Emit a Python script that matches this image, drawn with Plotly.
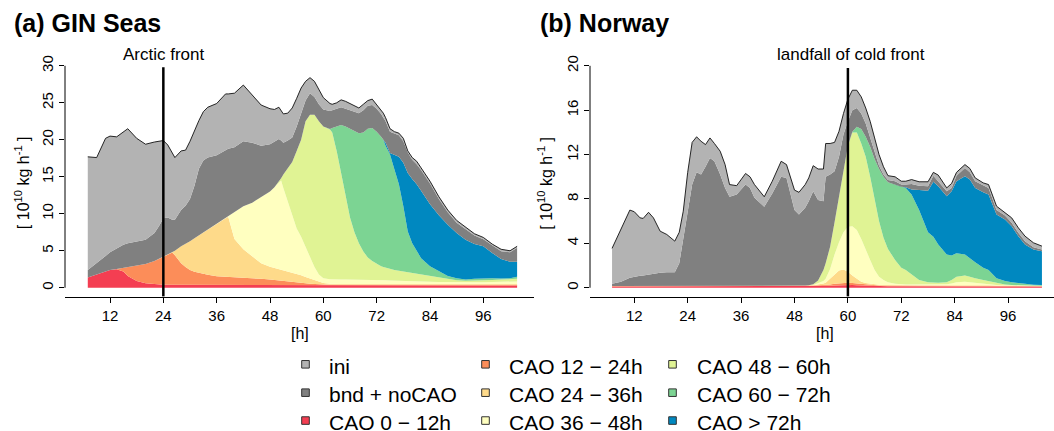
import plotly.graph_objects as go

W, H = 1054, 431
FONT = "Liberation Sans, Arial, Helvetica, sans-serif"

# ---------------- Panel (a) GIN Seas: upper edge of each stacked layer ----------------
hours_a = [7, 9, 11, 12, 13.5, 15, 16, 18, 20, 22,
           23, 24, 25, 26, 26.6, 28, 29, 30, 31, 32,
           33, 34, 36, 38, 38.6, 40, 42, 44, 46, 48,
           49, 50, 50.5, 51, 52, 53, 54, 55, 56, 57,
           58, 59, 60, 61.5, 62, 63, 64, 65, 66, 67,
           68, 69, 70, 71, 72, 73, 73.5, 74, 75, 76,
           77, 78, 79, 80, 81, 82, 84, 86, 88, 90,
           92, 94, 96, 98, 100, 102, 103.6]

a_cao_0_12 = [1.4, 1.8, 2.2, 2.4, 2.5, 2.2, 1.6, 0.9, 0.6, 0.45,
              0.42, 0.4, 0.4, 0.4, 0.4, 0.4, 0.4, 0.4, 0.4, 0.4,
              0.4, 0.4, 0.4, 0.4, 0.4, 0.4, 0.4, 0.4, 0.4, 0.38,
              0.37, 0.36, 0.36, 0.35, 0.35, 0.34, 0.33, 0.32, 0.31, 0.3,
              0.3, 0.3, 0.3, 0.3, 0.3, 0.3, 0.3, 0.3, 0.3, 0.3,
              0.3, 0.3, 0.3, 0.3, 0.3, 0.3, 0.3, 0.3, 0.3, 0.3,
              0.3, 0.3, 0.3, 0.3, 0.3, 0.3, 0.3, 0.3, 0.3, 0.3,
              0.3, 0.3, 0.3, 0.3, 0.3, 0.3, 0.3]
a_cao_12_24 = [1.4, 1.8, 2.2, 2.4, 2.55, 2.7, 2.8, 2.95, 3.2, 3.6,
               3.9, 4.2, 4.5, 4.75, 4.4, 3.3, 2.8, 2.4, 2.15, 2.0,
               1.85, 1.75, 1.55, 1.5, 1.48, 1.45, 1.38, 1.3, 1.2, 1.1,
               1.05, 1.0, 0.98, 0.95, 0.9, 0.85, 0.78, 0.7, 0.62, 0.55,
               0.5, 0.47, 0.45, 0.42, 0.42, 0.4, 0.4, 0.4, 0.4, 0.4,
               0.4, 0.4, 0.4, 0.4, 0.4, 0.4, 0.4, 0.4, 0.4, 0.4,
               0.4, 0.4, 0.4, 0.4, 0.4, 0.4, 0.4, 0.4, 0.4, 0.4,
               0.4, 0.4, 0.4, 0.4, 0.4, 0.4, 0.4]
a_cao_24_36 = [1.4, 1.8, 2.2, 2.4, 2.55, 2.7, 2.8, 2.95, 3.2, 3.6,
               3.9, 4.2, 4.55, 4.85, 5.0, 5.6, 5.9, 6.3, 6.7, 7.1,
               7.5, 7.9, 8.7, 9.4, 9.6, 6.6, 5.2, 4.2, 3.3, 2.85,
               2.7, 2.5, 2.45, 2.4, 2.2, 2.05, 1.9, 1.7, 1.45, 1.25,
               1.05, 0.85, 0.65, 0.55, 0.52, 0.5, 0.5, 0.5, 0.5, 0.5,
               0.5, 0.5, 0.5, 0.5, 0.5, 0.5, 0.5, 0.5, 0.5, 0.5,
               0.5, 0.5, 0.5, 0.5, 0.5, 0.5, 0.5, 0.5, 0.5, 0.5,
               0.5, 0.5, 0.5, 0.5, 0.5, 0.5, 0.5]
a_cao_36_48 = [1.4, 1.8, 2.2, 2.4, 2.55, 2.7, 2.8, 2.95, 3.2, 3.6,
               3.9, 4.2, 4.55, 4.85, 5.0, 5.6, 5.9, 6.3, 6.7, 7.1,
               7.5, 7.9, 8.7, 9.4, 9.65, 10.3, 11.0, 11.5, 12.2, 13.0,
               13.6, 14.3, 14.5, 13.5, 11.6, 9.8, 8.0, 6.9, 5.5, 4.0,
               2.8, 1.8, 1.3, 1.15, 1.12, 1.1, 1.1, 1.1, 1.1, 1.1,
               1.1, 1.1, 1.1, 1.1, 1.05, 1.0, 1.0, 1.0, 0.98, 0.95,
               0.93, 0.9, 0.88, 0.86, 0.85, 0.84, 0.8, 0.78, 0.76, 0.75,
               0.75, 0.75, 0.75, 0.78, 0.8, 0.82, 0.85]
a_cao_48_60 = [1.4, 1.8, 2.2, 2.4, 2.55, 2.7, 2.8, 2.95, 3.2, 3.6,
               3.9, 4.2, 4.55, 4.85, 5.0, 5.6, 5.9, 6.3, 6.7, 7.1,
               7.5, 7.9, 8.7, 9.4, 9.65, 10.3, 11.0, 11.5, 12.2, 13.0,
               13.6, 14.35, 14.8, 15.3, 16.2, 17.0, 18.5, 20.0, 22.5, 23.4,
               23.4, 22.5, 21.8, 21.4, 21.0, 18.5, 15.5, 12.3, 9.5, 7.5,
               6.0, 4.9, 4.1, 3.6, 3.2, 2.9, 2.8, 2.7, 2.5, 2.4,
               2.3, 2.2, 2.1, 2.0, 1.9, 1.8, 1.55, 1.3, 1.1, 1.0,
               0.95, 0.95, 1.0, 1.05, 1.1, 1.15, 1.2]
a_cao_60_72 = [1.4, 1.8, 2.2, 2.4, 2.55, 2.7, 2.8, 2.95, 3.2, 3.6,
               3.9, 4.2, 4.55, 4.85, 5.0, 5.6, 5.9, 6.3, 6.7, 7.1,
               7.5, 7.9, 8.7, 9.4, 9.65, 10.3, 11.0, 11.5, 12.2, 13.0,
               13.6, 14.35, 14.8, 15.3, 16.2, 17.0, 18.5, 20.0, 22.5, 23.4,
               23.4, 22.5, 21.8, 21.45, 21.6, 21.8, 22.0, 21.8, 21.5, 21.2,
               20.9, 21.0, 21.5, 21.6, 21.1, 20.4, 20.0, 19.2, 18.0, 16.0,
               14.0, 11.0, 7.6, 6.0, 4.9, 4.0, 2.9, 2.2, 1.6, 1.3,
               1.12, 1.2, 1.3, 1.3, 1.25, 1.3, 1.5]
a_cao_gt_72 = [1.4, 1.8, 2.2, 2.4, 2.55, 2.7, 2.8, 2.95, 3.2, 3.6,
               3.9, 4.2, 4.55, 4.85, 5.0, 5.6, 5.9, 6.3, 6.7, 7.1,
               7.5, 7.9, 8.7, 9.4, 9.65, 10.3, 11.0, 11.5, 12.2, 13.0,
               13.6, 14.35, 14.8, 15.3, 16.2, 17.0, 18.5, 20.0, 22.5, 23.4,
               23.4, 22.5, 21.8, 21.45, 21.6, 21.8, 22.0, 21.8, 21.5, 21.2,
               20.9, 21.0, 21.5, 21.6, 21.1, 20.4, 20.05, 19.6, 18.2, 17.9,
               17.7, 16.9, 15.5, 14.7, 14.0, 13.1, 11.3, 9.8, 8.5, 7.4,
               6.5, 5.9, 5.6, 4.7, 3.9, 3.5, 3.5]
a_bnd_nocao = [2.4, 3.3, 4.3, 4.8, 5.3, 5.8, 6.0, 6.2, 6.5, 7.4,
               8.3, 9.4, 9.5, 9.2, 9.2, 10.5, 11.1, 12.0, 13.8, 16.1,
               17.2, 17.6, 17.9, 18.6, 18.8, 19.0, 19.8, 19.6, 19.2, 19.4,
               19.7, 20.1, 19.9, 19.6, 19.9, 20.3, 21.8, 23.5, 25.3, 26.3,
               25.8, 24.8, 24.1, 23.9, 24.0, 24.3, 24.4, 24.2, 24.0, 23.7,
               23.6, 24.0, 24.6, 24.7, 24.2, 23.5, 23.0, 22.5, 21.1, 20.8,
               20.6, 19.8, 18.3, 17.3, 16.7, 15.9, 14.1, 12.0, 10.2, 8.8,
               7.9, 7.05, 6.55, 5.7, 4.95, 4.8, 5.4]
a_ini = [17.7, 17.6, 20.2, 20.5, 20.4, 21.1, 21.5, 20.2, 19.4, 19.7,
         19.8, 19.9, 19.3, 18.3, 17.6, 18.5, 18.6, 19.8, 21.3, 22.6,
         23.8, 24.4, 24.9, 26.2, 26.2, 26.3, 27.4, 26.1, 24.7, 24.2,
         24.1, 24.4, 24.0, 23.5, 23.6, 24.3, 25.6, 27.0, 27.9, 28.4,
         27.9, 26.7, 25.7, 24.9, 24.8, 25.0, 25.4, 25.2, 24.9, 24.5,
         24.3, 24.8, 25.3, 25.5, 24.7, 24.0, 23.6, 23.0, 21.5, 21.1,
         20.9, 20.2, 18.5, 17.6, 17.1, 16.2, 14.4, 12.3, 10.5, 9.1,
         8.2, 7.3, 6.8, 5.9, 5.2, 5.0, 5.6]

# ---------------- Panel (b) Norway: upper edge of each stacked layer ----------------
hours_b = [7, 9, 11, 12, 13.3, 14, 15.2, 16.3, 17.8, 19.3,
           21.1, 22.1, 23, 24, 25, 26, 27, 28, 29, 30,
           31.3, 32.4, 33.4, 35, 37, 38, 39, 41.2, 43, 45,
           46.2, 48, 49, 50.4, 51.2, 52.2, 53.3, 54.5, 55, 56,
           57, 58, 59, 60, 61, 62, 63, 64, 65, 66,
           67, 68, 69, 70.6, 72, 73, 74.3, 76, 78, 79.2,
           80.3, 82.2, 83.3, 84.4, 86.3, 87.4, 88.6, 90.4, 91.6, 93.4,
           95.3, 96.8, 98.3, 99.8, 101.7, 103.6]

b_cao_0_12 = [0.12] * 29 + [0.12, 0.13, 0.13, 0.13, 0.13, 0.13, 0.13, 0.14, 0.15, 0.16, 0.18,
                            0.2, 0.22, 0.25, 0.25, 0.24, 0.22, 0.2, 0.18, 0.16, 0.15,
                            0.14, 0.13, 0.13, 0.13, 0.13, 0.13, 0.13, 0.13, 0.13, 0.13,
                            0.13, 0.13, 0.13, 0.13, 0.13, 0.13, 0.13, 0.13, 0.13, 0.12,
                            0.12, 0.12, 0.12, 0.12, 0.12, 0.12, 0.12]
b_cao_12_24 = [0.15] * 29 + [0.17, 0.19, 0.2, 0.2, 0.2, 0.2, 0.2, 0.22, 0.24, 0.26, 0.3,
                             0.35, 0.4, 0.45, 0.45, 0.42, 0.38, 0.33, 0.28, 0.25, 0.23,
                             0.21, 0.2, 0.2, 0.2, 0.2, 0.2, 0.2, 0.2, 0.2, 0.2,
                             0.2, 0.2, 0.2, 0.2, 0.2, 0.2, 0.2, 0.18, 0.18, 0.17,
                             0.16, 0.15, 0.15, 0.15, 0.14, 0.14, 0.14]
b_cao_24_36 = [0.15] * 29 + [0.17, 0.19, 0.2, 0.2, 0.2, 0.2, 0.22, 0.28, 0.38, 0.45, 0.8,
                             1.2, 1.55, 1.65, 1.45, 1.1, 0.8, 0.55, 0.42, 0.35, 0.3,
                             0.27, 0.25, 0.24, 0.23, 0.23, 0.23, 0.23, 0.23, 0.23, 0.23,
                             0.23, 0.23, 0.24, 0.26, 0.28, 0.27, 0.25, 0.23, 0.22, 0.2,
                             0.19, 0.18, 0.17, 0.16, 0.15, 0.15, 0.15]
b_cao_36_48 = [0.15] * 29 + [0.17, 0.19, 0.2, 0.2, 0.2, 0.21, 0.25, 0.4, 0.6, 0.8, 1.7,
                             3.0, 4.1, 5.0, 5.5, 5.55, 5.2, 4.4, 3.4, 2.5, 1.6,
                             1.0, 0.7, 0.5, 0.35, 0.3, 0.3, 0.3, 0.3, 0.3, 0.3,
                             0.3, 0.32, 0.38, 0.5, 0.55, 0.5, 0.45, 0.35, 0.3, 0.25,
                             0.22, 0.2, 0.19, 0.18, 0.16, 0.16, 0.16]
b_cao_48_60 = [0.15] * 29 + [0.17, 0.19, 0.2, 0.2, 0.2, 0.22, 0.32, 0.65, 1.6, 2.2, 3.7,
                             5.9, 8.3, 10.6, 12.8, 14.0, 14.0, 13.0, 11.8, 10.0, 8.0,
                             6.0, 4.5, 3.5, 2.5, 1.8, 1.6, 1.2, 0.7, 0.5, 0.47,
                             0.45, 0.5, 0.7, 1.0, 1.1, 1.0, 0.85, 0.7, 0.6, 0.4,
                             0.3, 0.25, 0.22, 0.2, 0.18, 0.17]
b_cao_60_72 = [0.15] * 29 + [0.17, 0.19, 0.2, 0.2, 0.2, 0.22, 0.32, 0.65, 1.6, 2.2, 3.7,
                             5.9, 8.3, 10.6, 12.8, 14.05, 14.5, 14.3, 13.6, 12.7, 11.6,
                             10.7, 10.0, 9.5, 9.3, 9.1, 9.0, 8.4, 7.0, 5.0, 4.6,
                             3.9, 3.0, 2.9, 3.1, 3.0, 2.7, 2.3, 1.8, 1.6, 0.85,
                             0.6, 0.5, 0.4, 0.35, 0.28, 0.24]
b_cao_gt_72 = [0.15] * 29 + [0.17, 0.19, 0.2, 0.2, 0.2, 0.22, 0.32, 0.65, 1.6, 2.2, 3.7,
                             5.9, 8.3, 10.6, 12.8, 14.05, 14.5, 14.3, 13.6, 12.7, 11.6,
                             10.7, 10.0, 9.5, 9.3, 9.1, 9.05, 8.85, 8.8, 8.75, 9.55,
                             9.15, 8.25, 8.7, 9.6, 10.05, 9.75, 9.0, 8.6, 8.4, 6.6,
                             6.15, 5.55, 4.65, 3.9, 3.45, 3.3]
b_bnd_nocao = [0.36, 0.55, 0.9, 1.0, 1.08, 1.1, 1.2, 1.25, 1.35, 1.4,
               1.4, 2.2, 4.5, 6.8, 9.3, 10.4, 10.2, 10.9, 11.7, 11.4,
               10.2, 9.0, 8.2, 8.4, 9.3, 9.0, 8.1, 7.3, 8.5, 10.0,
               9.9, 7.0, 6.6, 7.2, 7.8, 8.7, 7.9, 7.8, 10.0, 10.2,
               10.5, 11.8, 13.8, 15.0, 16.0, 16.2, 15.7, 14.8, 13.6, 12.3,
               11.0, 10.2, 9.7, 9.6, 9.3, 9.3, 9.35, 9.2, 9.15, 10.1,
               9.6, 8.7, 9.0, 10.1, 10.8, 10.4, 9.6, 9.2, 9.0, 7.0,
               6.5, 5.85, 4.95, 4.2, 3.65, 3.45]
b_ini = [3.55, 5.2, 7.0, 6.85, 6.3, 6.25, 6.8, 6.3, 5.1, 4.8,
         4.2, 5.0, 6.9, 10.4, 13.1, 13.6, 13.2, 12.9, 13.5, 13.0,
         12.3, 11.1, 9.3, 9.2, 10.3, 10.0, 9.3, 8.2, 9.6, 11.4,
         11.1, 8.8, 8.6, 9.3, 9.9, 11.0, 10.7, 10.7, 13.0, 13.0,
         13.1, 14.1, 15.7, 17.0, 17.8, 17.8, 17.2, 16.2, 15.0, 13.5,
         12.0, 10.9, 10.1, 10.0, 9.6, 9.6, 9.75, 9.55, 9.55, 10.4,
         10.15, 9.0, 9.4, 10.4, 11.1, 10.75, 9.9, 9.45, 9.3, 7.35,
         6.75, 6.3, 5.4, 4.65, 4.05, 3.75]

layer_names = ["CAO 0 \u2212 12h", "CAO 12 \u2212 24h", "CAO 24 \u2212 36h", "CAO 36 \u2212 48h",
               "CAO 48 \u2212 60h", "CAO 60 \u2212 72h", "CAO > 72h", "bnd + noCAO", "ini"]
layer_colors = ["#F43E52", "#FC8D59", "#FEDA8A", "#FFFFC0", "#E0F394",
                "#7CD493", "#0088C0", "#808080", "#B3B3B3"]

x_ticks = [12, 24, 36, 48, 60, 72, 84, 96]
y_ticks_a = [0, 5, 10, 15, 20, 25, 30]
y_ticks_b = [0, 4, 8, 12, 16, 20]

fig = go.Figure()


def add_panel(hours, tops, xa, ya):
    for i, (name, col, top) in enumerate(zip(layer_names, layer_colors, tops)):
        fig.add_trace(go.Scatter(
            x=hours, y=top, name=name, mode="lines",
            line=dict(color=col, width=0),
            fill="tozeroy" if i == 0 else "tonexty", fillcolor=col,
            xaxis=xa, yaxis=ya, showlegend=False, hoverinfo="skip"))
    fig.add_trace(go.Scatter(
        x=hours, y=tops[-1], mode="lines", line=dict(color="#111111", width=0.9),
        xaxis=xa, yaxis=ya, showlegend=False, hoverinfo="skip"))


add_panel(hours_a, [a_cao_0_12, a_cao_12_24, a_cao_24_36, a_cao_36_48, a_cao_48_60,
                    a_cao_60_72, a_cao_gt_72, a_bnd_nocao, a_ini], "x", "y")
add_panel(hours_b, [b_cao_0_12, b_cao_12_24, b_cao_24_36, b_cao_36_48, b_cao_48_60,
                    b_cao_60_72, b_cao_gt_72, b_bnd_nocao, b_ini], "x2", "y2")

ydom = [1 - 296 / H, 1 - 55.2 / H]
xcommon = dict(showline=True, linecolor="black", linewidth=1, ticks="outside",
               ticklen=5, tickwidth=1, tickcolor="black", showgrid=False, zeroline=False,
               tickvals=x_ticks, ticktext=[str(v) for v in x_ticks],
               tickfont=dict(family=FONT, size=15, color="black"))
ycommon = dict(showline=False, ticks="outside", ticklen=5, tickwidth=1, tickcolor="black",
               showgrid=False, zeroline=False, tickangle=-90,
               tickfont=dict(family=FONT, size=15, color="black"))

fig.update_layout(
    width=W, height=H, autosize=False,
    margin=dict(l=0, r=0, t=0, b=0),
    paper_bgcolor="white", plot_bgcolor="white",
    xaxis=dict(domain=[65 / W, 534 / W], range=[1.874, 107.4], anchor="y", **xcommon),
    yaxis=dict(domain=ydom, range=[-1.2, 31.2], anchor="x",
               tickvals=y_ticks_a, ticktext=[str(v) for v in y_ticks_a], **ycommon),
    xaxis2=dict(domain=[590 / W, 1.0], range=[2.045, 106.31], anchor="y2", **xcommon),
    yaxis2=dict(domain=ydom, range=[-0.8, 20.8], anchor="x2",
                tickvals=y_ticks_b, ticktext=[str(v) for v in y_ticks_b], **ycommon),
)

shapes = [
    dict(type="line", xref="x domain", yref="y", x0=0, x1=0, y0=0, y1=30,
         line=dict(color="black", width=1)),
    dict(type="line", xref="x2 domain", yref="y2", x0=0, x1=0, y0=0, y1=20,
         line=dict(color="black", width=1)),
    dict(type="line", xref="x", yref="y", x0=24, x1=24, y0=-1.2, y1=29.8,
         line=dict(color="black", width=2.5)),
    dict(type="line", xref="x2", yref="y2", x0=60, x1=60, y0=-0.8, y1=19.8,
         line=dict(color="black", width=2.5)),
]

annotations = [
    dict(text="<b>(a) GIN Seas</b>", x=12 / W, y=1 - 21 / H, xref="paper", yref="paper",
         xanchor="left", yanchor="middle", showarrow=False,
         font=dict(family=FONT, size=25, color="black")),
    dict(text="<b>(b) Norway</b>", x=538 / W, y=1 - 21 / H, xref="paper", yref="paper",
         xanchor="left", yanchor="middle", showarrow=False,
         font=dict(family=FONT, size=25, color="black")),
    dict(text="Arctic front", x=164 / W, y=1 - 52.5 / H, xref="paper", yref="paper",
         xanchor="center", yanchor="middle", showarrow=False,
         font=dict(family=FONT, size=17, color="black")),
    dict(text="landfall of cold front", x=850.5 / W, y=1 - 52.5 / H, xref="paper", yref="paper",
         xanchor="center", yanchor="middle", showarrow=False,
         font=dict(family=FONT, size=17, color="black")),
    dict(text="[h]", x=300 / W, y=1 - 333 / H, xref="paper", yref="paper",
         xanchor="center", yanchor="middle", showarrow=False,
         font=dict(family=FONT, size=16, color="black")),
    dict(text="[h]", x=825 / W, y=1 - 333 / H, xref="paper", yref="paper",
         xanchor="center", yanchor="middle", showarrow=False,
         font=dict(family=FONT, size=16, color="black")),
]
for xc in (22, 545.5):
    annotations.append(dict(
        text="[ 10<sup>10</sup> kg h<sup>-1</sup> ]", x=xc / W, y=1 - 182 / H,
        xref="paper", yref="paper", xanchor="center", yanchor="middle", textangle=-90,
        showarrow=False, font=dict(family=FONT, size=16, color="black")))

# legend, drawn as three columns of filled squares with labels
legend_order = [8, 7, 0, 1, 2, 3, 4, 5, 6]
col_sq_x = [305.5, 485.5, 672.5]
col_txt_x = [327, 507, 695]
row_y = [366, 394.5, 422.5]
for k, li in enumerate(legend_order):
    c, r = divmod(k, 3)
    cx, cy = col_sq_x[c], row_y[r]
    shapes.append(dict(type="rect", xref="paper", yref="paper",
                       x0=(cx - 3.8) / W, x1=(cx + 3.8) / W,
                       y0=1 - (cy + 1.8) / H, y1=1 - (cy - 5.8) / H,
                       fillcolor=layer_colors[li], line=dict(color="#333333", width=1)))
    annotations.append(dict(text=layer_names[li], x=col_txt_x[c] / W, y=1 - cy / H,
                            xref="paper", yref="paper", xanchor="left", yanchor="middle",
                            showarrow=False, font=dict(family=FONT, size=21, color="black")))

fig.update_layout(shapes=shapes, annotations=annotations)
fig.write_html("out.html")
